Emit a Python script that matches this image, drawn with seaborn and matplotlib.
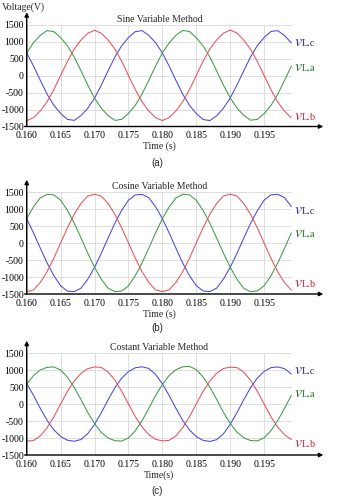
import numpy as np
import pandas as pd
import matplotlib
matplotlib.use("Agg")
import matplotlib.pyplot as plt
import seaborn as sns

# ---------------- data ----------------
time = np.round(np.arange(0.160, 0.1995, 0.001), 3)

# (a) Sine Variable Method
sine_vLa = [665, 965, 1180, 1320, 1290, 1115, 875, 545, 140, -280, -665, -965, -1180, -1320, -1290, -1115, -875, -545, -140, 280,
            670, 960, 1185, 1325, 1295, 1110, 870, 540, 135, -285, -660, -960, -1175, -1315, -1290, -1120, -880, -550, -145, 275]
sine_vLb = [-1330, -1240, -1045, -775, -415, 0, 415, 775, 1045, 1240, 1330, 1240, 1045, 775, 415, 0, -415, -775, -1045, -1240,
            -1325, -1235, -1040, -770, -410, 5, 420, 780, 1050, 1245, 1335, 1245, 1040, 770, 410, -5, -420, -780, -1050, -1245]
sine_vLc = [665, 280, -140, -545, -875, -1115, -1290, -1320, -1180, -965, -665, -280, 140, 545, 875, 1115, 1290, 1320, 1180, 965,
            660, 275, -145, -550, -880, -1120, -1295, -1325, -1185, -960, -660, -275, 145, 550, 880, 1120, 1295, 1320, 1175, 960]

# (b) Cosine Variable Method
cos_vLa = [718, 1066, 1330, 1430, 1415, 1260, 960, 584, 150, -298, -718, -1066, -1330, -1430, -1415, -1260, -960, -584, -150, 298,
           720, 1060, 1325, 1432, 1418, 1255, 955, 580, 145, -300, -715, -1070, -1335, -1432, -1410, -1255, -965, -590, -155, 295]
cos_vLb = [-1435, -1380, -1161, -843, -443, 0, 443, 843, 1161, 1380, 1435, 1380, 1161, 843, 443, 0, -443, -843, -1161, -1380,
           -1432, -1375, -1155, -840, -440, 5, 448, 848, 1165, 1383, 1437, 1378, 1158, 840, 440, -5, -448, -848, -1165, -1383]
cos_vLc = [718, 298, -150, -584, -960, -1260, -1415, -1430, -1330, -1066, -718, -298, 150, 584, 960, 1260, 1415, 1430, 1330, 1066,
           715, 295, -155, -590, -965, -1255, -1410, -1428, -1325, -1060, -715, -300, 148, 580, 955, 1262, 1418, 1432, 1335, 1070]

# (c) Costant Variable Method
const_vLa = [580, 835, 1000, 1080, 1090, 1000, 790, 490, 130, -250, -580, -835, -1000, -1080, -1090, -1000, -790, -490, -130, 250,
             575, 840, 1010, 1095, 1105, 1010, 795, 495, 135, -245, -575, -830, -995, -1075, -1085, -995, -785, -485, -125, 255]
const_vLb = [-1090, -1075, -940, -700, -375, 0, 370, 675, 900, 1040, 1090, 1075, 940, 700, 375, 0, -370, -675, -900, -1040,
             -1085, -1070, -935, -695, -370, 5, 375, 680, 905, 1045, 1085, 1070, 935, 695, 370, -5, -375, -680, -905, -1045]
const_vLc = [600, 255, -125, -480, -760, -955, -1065, -1095, -1045, -870, -600, -255, 125, 480, 760, 955, 1065, 1095, 1045, 870,
             595, 250, -130, -485, -765, -960, -1070, -1100, -1050, -875, -595, -250, 130, 485, 765, 960, 1070, 1090, 1040, 880]

titles = ["Sine Variable Method", "Cosine Variable Method", "Costant Variable Method"]
xlabels = ["Time (s)", "Time (s)", "Time(s)"]
panel_tags = ["(a)", "(b)", "(c)"]
xtick_vals = [0.160, 0.165, 0.170, 0.175, 0.180, 0.185, 0.190, 0.195]
xtick_labels = ["0.160", "0.165", "0.170", "0.175", "0.180", "0.185", "0.190", "0.195"]
ytick_vals = [-1500, -1000, -500, 0, 500, 1000, 1500]
ytick_labels = ["-1500", "-1000", "-500", "0", "500", "1000", "1500"]
phase_names = ["c", "a", "b"]
phase_suffix = {"c": "L.c", "a": "L.a", "b": "L.b"}

panels = [
    {"a": sine_vLa, "b": sine_vLb, "c": sine_vLc},
    {"a": cos_vLa, "b": cos_vLb, "c": cos_vLc},
    {"a": const_vLa, "b": const_vLb, "c": const_vLc},
]

# ---------------- style ----------------
sns.set_theme(style="white")
plt.rcParams['font.family'] = ['Liberation Serif', 'DejaVu Serif']
plt.rcParams['mathtext.fontset'] = 'stix'

line_colors = {"a": "#3f9a48", "b": "#e4525a", "c": "#4848dc"}
text_colors = {"a": "#1f6e24", "b": "#cc1f3a", "c": "#2020c0"}

W, H = 338, 498
fig = plt.figure(figsize=(W / 100, H / 100), dpi=100)

ax_left, ax_right = 26.7, 292.0
tops = [24.5, 192.0, 353.0]
ax_h = 102.0
label_y = [
    {"c": 985, "a": 250, "b": -1190},
    {"c": 970, "a": 295, "b": -1180},
    {"c": 1000, "a": 325, "b": -1150},
]
tag_y = [163, 328, 491]

for i, (data, top) in enumerate(zip(panels, tops)):
    ax = fig.add_axes([ax_left / W, 1 - (top + ax_h) / H, (ax_right - ax_left) / W, ax_h / H])
    df = pd.DataFrame({
        "t": np.tile(time, 3),
        "v": np.concatenate([data[p] for p in phase_names]),
        "phase": np.repeat(phase_names, len(time)),
    })
    sns.lineplot(data=df, x="t", y="v", hue="phase", palette=line_colors,
                 linewidth=0.75, legend=False, ax=ax, estimator=None, sort=False)
    ax.set_xlim(0.160, 0.1991)
    ax.set_ylim(-1500, 1500)
    ax.set_xticks(xtick_vals)
    ax.set_xticklabels(xtick_labels)
    ax.set_yticks(ytick_vals)
    ax.set_yticklabels(ytick_labels)
    ax.tick_params(axis="both", length=0, labelsize=7, colors="black")
    ax.tick_params(axis="x", pad=3.5)
    ax.tick_params(axis="y", pad=2)
    ax.grid(True, color="#d9d9d9", linewidth=0.6)
    ax.set_axisbelow(True)
    for s in ax.spines.values():
        s.set_visible(False)
    ax.set_xlabel(xlabels[i], fontsize=7, labelpad=1)
    ax.set_ylabel("")
    ax.set_title(titles[i], fontsize=7, pad=2)
    # axis arrows
    ax.annotate("", xy=(1.118, 0), xytext=(-0.008, 0), xycoords="axes fraction",
                arrowprops=dict(arrowstyle="-|>", color="black", lw=1.0, mutation_scale=6,
                                shrinkA=0, shrinkB=0), annotation_clip=False)
    ax.annotate("", xy=(0, 1.12), xytext=(0, 0), xycoords="axes fraction",
                arrowprops=dict(arrowstyle="-|>", color="black", lw=1.0, mutation_scale=6,
                                shrinkA=0, shrinkB=0), annotation_clip=False)
    for p in phase_names:
        ax.annotate(r"$v$", xy=(0.1994, label_y[i][p]), xycoords="data",
                    color=text_colors[p], fontsize=11.5, ha="left", va="baseline",
                    xytext=(0, -3), textcoords="offset points", annotation_clip=False)
        ax.annotate(phase_suffix[p], xy=(0.1994, label_y[i][p]), xycoords="data",
                    color=text_colors[p], fontsize=7.5, ha="left", va="baseline",
                    xytext=(5.6, -3), textcoords="offset points", annotation_clip=False)
    fig.text(157 / W, 1 - tag_y[i] / H, panel_tags[i], ha="center", va="center",
             fontsize=7, family=["Liberation Sans", "DejaVu Sans"])

fig.text(2 / W, 1 - 7 / H, "Voltage(V)", ha="left", va="center", fontsize=7)

fig.savefig("out.png", dpi=100, facecolor="white")
